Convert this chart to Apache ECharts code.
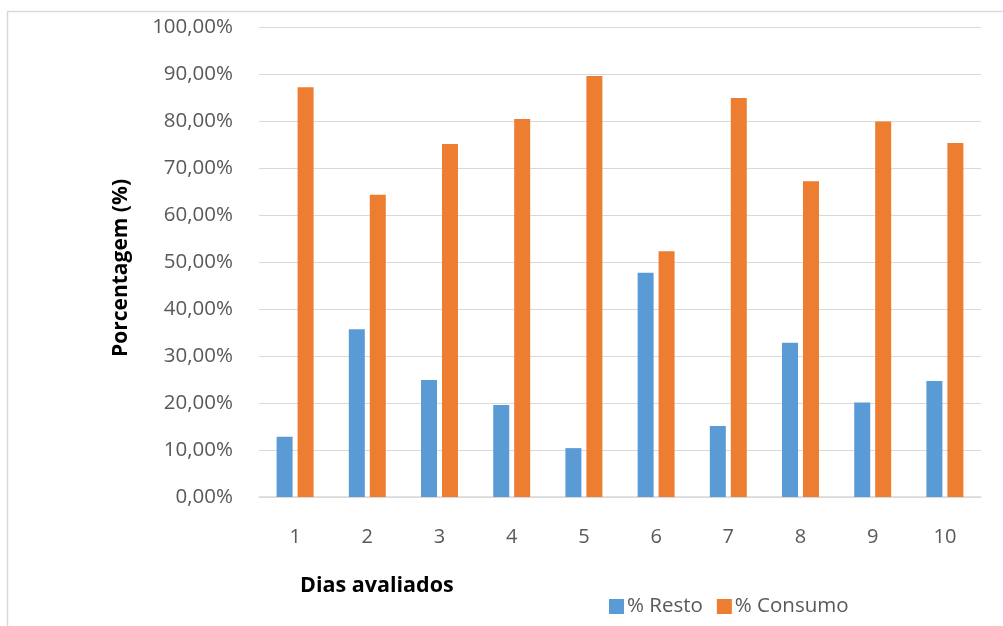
<!DOCTYPE html>
<html>
<head>
<meta charset="utf-8">
<script src="https://cdn.jsdelivr.net/npm/echarts@6/dist/echarts.min.js"></script>
<style>
html,body{margin:0;padding:0;background:#fff;}
#main{width:1003px;height:626px;}
</style>
</head>
<body>
<div id="main"></div>
<script>
var days = ['1','2','3','4','5','6','7','8','9','10'];
var resto = [12.8, 35.7, 24.9, 19.6, 10.4, 47.7, 15.1, 32.8, 20.1, 24.7];
var consumo = [87.2, 64.3, 75.1, 80.4, 89.6, 52.3, 84.9, 67.2, 79.9, 75.3];
var seriesNames = ['% Resto', '% Consumo'];
var xTitle = 'Dias avaliados';
var yTitle = 'Porcentagem (%)';

var font = '"Open Sans", "Liberation Sans", sans-serif';
var chart = echarts.init(document.getElementById('main'), null, {renderer: 'canvas'});
chart.setOption({
  animation: false,
  backgroundColor: '#fff',
  textStyle: {fontFamily: font},
  grid: {left: 259, right: 22, top: 27, bottom: 129, containLabel: false},
  legend: {
    data: seriesNames,
    left: 604, top: 591,
    icon: 'rect', itemWidth: 15, itemHeight: 15, itemGap: 14,
    textStyle: {fontFamily: font, fontSize: 20.5, color: '#595959', padding: [0,0,0,-2]}
  },
  xAxis: {
    type: 'category',
    data: days,
    axisLine: {lineStyle: {color: '#d9d9d9', width: 1.5}},
    axisTick: {show: false},
    axisLabel: {fontFamily: font, fontSize: 20, color: '#595959', margin: 30}
  },
  yAxis: {
    type: 'value',
    min: 0, max: 100, interval: 10,
    name: yTitle,
    nameLocation: 'middle',
    nameRotate: 90,
    nameGap: 127,
    nameTextStyle: {fontFamily: font, fontSize: 21, fontWeight: 'bold', color: '#000', padding: [0,0,0,-12]},
    axisLine: {show: false},
    axisTick: {show: false},
    splitLine: {lineStyle: {color: '#d9d9d9', width: 1.2}},
    axisLabel: {
      fontFamily: font, fontSize: 20.5, color: '#595959', margin: 26,
      formatter: function (v) { return v.toFixed(2).replace('.', ',') + '%'; }
    }
  },
  graphic: [
    {type: 'rect', shape: {x: 7.5, y: 11.5, width: 1010, height: 640},
     style: {fill: 'none', stroke: '#d9d9d9', lineWidth: 1.5}, z: -10},
    {type: 'text', left: 300, top: 575,
     style: {text: xTitle, font: 'bold 21.5px ' + font, fill: '#000'}}
  ],
  series: [
    {name: seriesNames[0], type: 'bar', data: resto, barWidth: 16, barGap: '31%',
     itemStyle: {color: '#5B9BD5'}},
    {name: seriesNames[1], type: 'bar', data: consumo, barWidth: 16,
     itemStyle: {color: '#ED7D31'}}
  ]
});
</script>
</body>
</html>
